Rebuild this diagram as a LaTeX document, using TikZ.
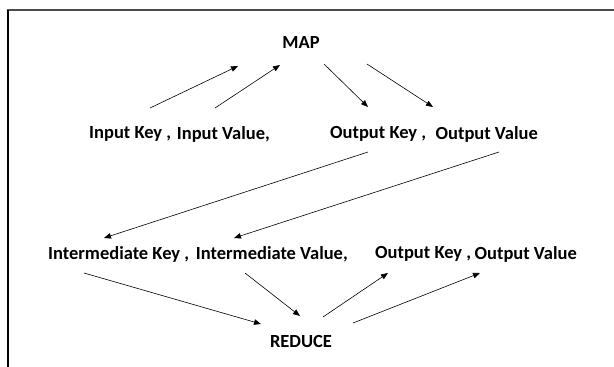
\documentclass[tikz,border=0pt]{standalone}
\usepackage{fontspec}
\setmainfont{Carlito}
\usetikzlibrary{arrows.meta}
\tikzset{
      termtext/.style={
        font=\bfseries\fontsize{18.5}{20}\selectfont,
        inner sep=0pt
      },
      flowarrow/.style={
        -{Triangle[length=7pt,width=5.5pt]},
        line width=0.6pt
      }
    }
\begin{document}
\begin{tikzpicture}[x=1pt,y=-1pt]
    \useasboundingbox (0,0) rectangle (614,367);
    \draw[line width=1.4pt, black!70] (7,10) -- (614,10);
    \draw[line width=1.4pt] (8,10) -- (8,367);
    \node[termtext] (map) at (301,43) {MAP};
    \node[termtext, anchor=west] (ikey) at (89,134) {Input Key ,};
    \node[termtext, anchor=east] (ival) at (270,134) {Input Value,};
    \node[termtext, anchor=west] (okeyA) at (330,134) {Output Key ,};
    \node[termtext, anchor=east] (ovalA) at (538,134) {Output Value};
    \node[termtext, anchor=west] (mkey) at (48,254) {Intermediate Key ,};
    \node[termtext, anchor=east] (mval) at (348,254) {Intermediate Value,};
    \node[termtext, anchor=west] (okeyB) at (375,254) {Output Key ,};
    \node[termtext, anchor=east] (ovalB) at (577,254) {Output Value};
    \node[termtext] (reduce) at (301,341) {REDUCE};
    \draw[flowarrow] ([shift={(61,-26)}]ikey.west) -- ([shift={(-63,23)}]map.center);
    \draw[flowarrow] ([shift={(-55,-26)}]ival.east) -- ([shift={(-21,22)}]map.center);
    \draw[flowarrow] ([shift={(23,21)}]map.center) -- ([shift={(38,-27)}]okeyA.west);
    \draw[flowarrow] ([shift={(66,21)}]map.center) -- ([shift={(-105,-27)}]ovalA.east);
    \draw[flowarrow] ([shift={(38,18)}]okeyA.west) -- ([shift={(56,-16)}]mkey.west);
    \draw[flowarrow] ([shift={(-39,18)}]ovalA.east) -- ([shift={(-114,-16)}]mval.east);
    \draw[flowarrow] ([shift={(36,19)}]mkey.west) -- ([shift={(-40,-17)}]reduce.center);
    \draw[flowarrow] ([shift={(-103,19)}]mval.east) -- ([shift={(-1,-25)}]reduce.center);
    \draw[flowarrow] ([shift={(22,-24)}]reduce.center) -- ([shift={(13,19)}]okeyB.west);
    \draw[flowarrow] ([shift={(52,-18)}]reduce.center) -- ([shift={(-97,19)}]ovalB.east);
\end{tikzpicture}
\end{document}
